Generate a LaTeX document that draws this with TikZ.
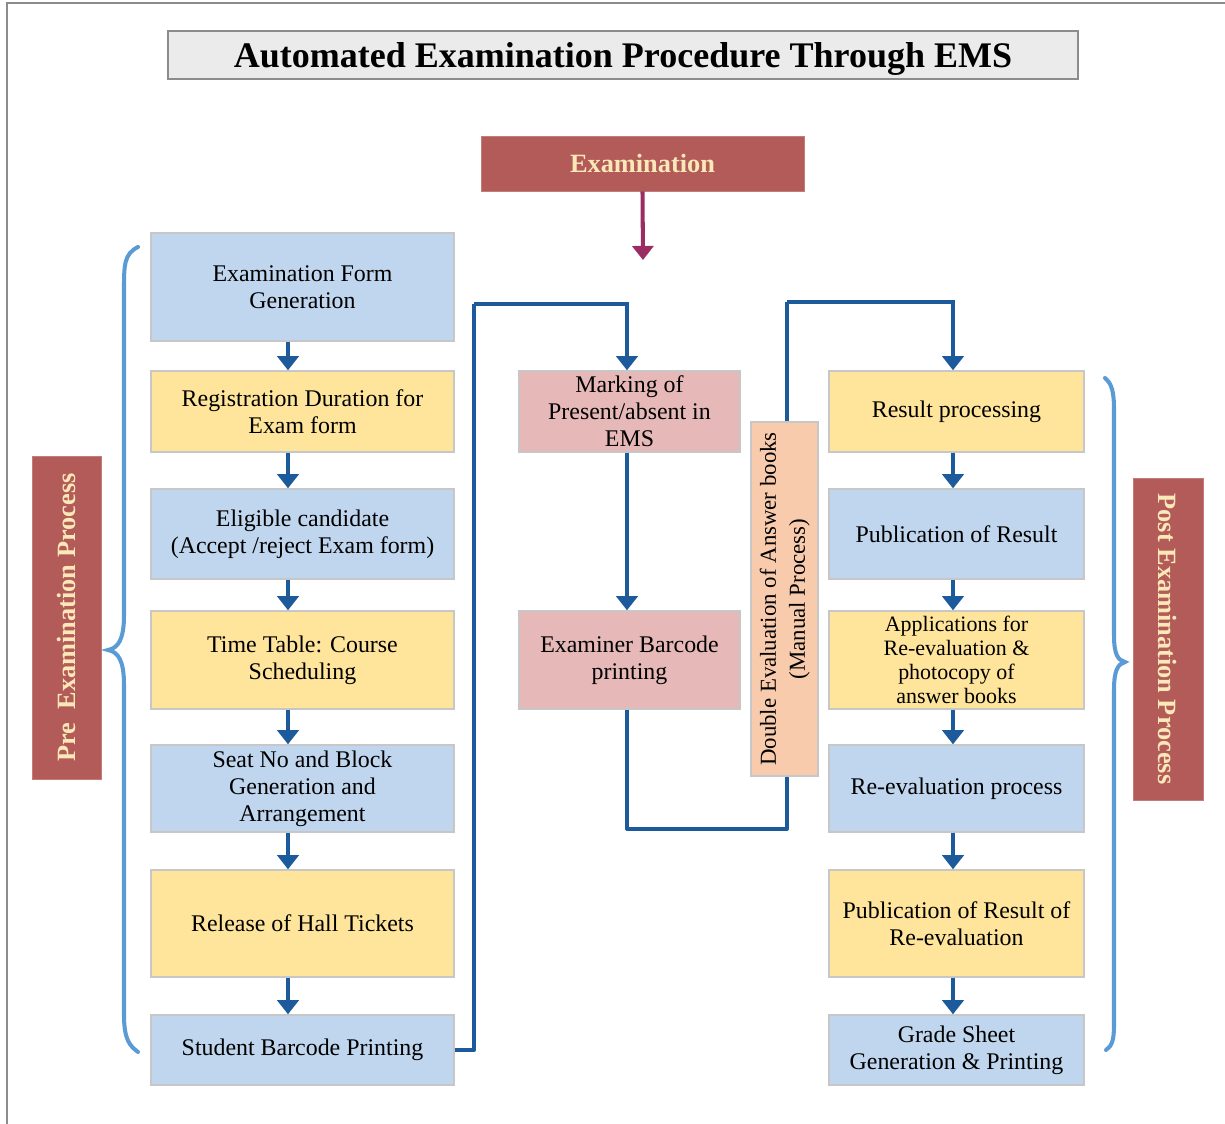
\documentclass[tikz,border=0pt]{standalone}
\usepackage{fontspec}
\setmainfont{Liberation Serif}
\usepackage{tikz}
\usetikzlibrary{arrows.meta, positioning}

\definecolor{boxblue}{HTML}{C0D6EE}
\definecolor{boxyellow}{HTML}{FEE59B}
\definecolor{boxpink}{HTML}{E6B9B8}
\definecolor{boxpeach}{HTML}{F8CBAD}
\definecolor{labelred}{HTML}{B35B58}
\definecolor{labeltext}{HTML}{FAE8B8}
\definecolor{flowblue}{HTML}{1D5A9C}
\definecolor{bracecol}{HTML}{5B9BD5}
\definecolor{exarrow}{HTML}{9B2D62}

\tikzset{
  box/.style={draw=black!22, line width=0.8pt, align=center, inner sep=2pt,
    font=\fontsize{13.6}{15.4}\selectfont},
  leftbox/.style={box, minimum width=6.06cm},
  midbox/.style={box, minimum width=4.42cm},
  rightbox/.style={box, minimum width=5.1cm},
  labelbox/.style={fill=labelred, draw=labelred!80!white, text=labeltext,
    font=\bfseries\fontsize{15}{18}\selectfont, align=center},
  flow/.style={draw=flowblue, line width=2.3pt,
    -{Triangle[width=12pt,length=8pt]}},
  flowline/.style={draw=flowblue, line width=2.3pt, line join=round},
  brace/.style={draw=bracecol, line width=2.3pt, line cap=round},
}

\begin{document}
\begin{tikzpicture}[x=0.02cm, y=-0.02cm]
  \useasboundingbox (0,0) rectangle (1225,1124);
  \draw[black!45, line width=1pt] (7,1124) -- (7,3) -- (1225,3);

  % title and examination
  \node[draw=black!45, fill=black!8, line width=1pt, minimum width=18.2cm,
    minimum height=0.96cm, font=\bfseries\fontsize{20.5}{24}\selectfont]
    (title) at (623,55) {\raisebox{-7pt}[0pt][0pt]{Automated Examination Procedure Through EMS}};
  \node[labelbox, minimum width=6.46cm, minimum height=1.1cm]
    (exam) at (642.5,163.5) {Examination};
  \coordinate (examend) at (643,260);
  \draw[draw=exarrow, line width=2.3pt, -{Triangle[width=12pt,length=8pt]}]
    (exam.south) -- (examend);

  % pre examination column
  \node[leftbox, fill=boxblue, minimum height=2.16cm] (efg) at (302.5,287)
    {Examination Form\\Generation};
  \node[leftbox, fill=boxyellow, minimum height=1.62cm] (reg) at (302.5,411.5)
    {Registration Duration for\\Exam form};
  \node[leftbox, fill=boxblue, minimum height=1.8cm] (elig) at (302.5,534)
    {Eligible candidate\\(Accept /reject Exam form)};
  \node[leftbox, fill=boxyellow, minimum height=1.96cm] (tt) at (302.5,660)
    {Time Table: Course\\Scheduling};
  \node[leftbox, fill=boxblue, minimum height=1.74cm] (seat) at (302.5,788.5)
    {Seat No and Block\\Generation and\\Arrangement};
  \node[leftbox, fill=boxyellow, minimum height=2.14cm] (hall) at (302.5,923.5)
    {Release of Hall Tickets};
  \node[leftbox, fill=boxblue, minimum height=1.4cm] (sbp) at (302.5,1050)
    {Student Barcode Printing};

  % middle column
  \node[midbox, fill=boxpink, minimum height=1.62cm] (mark) at (629.5,411.5)
    {Marking of\\Present/absent in\\EMS};
  \node[midbox, fill=boxpink, minimum height=1.96cm] (exb) at (629.5,660)
    {Examiner Barcode\\printing};
  \node[box, fill=boxpeach, minimum width=1.34cm, minimum height=7.08cm,
    font=\fontsize{13}{16.5}\selectfont] (dbl) at (784.5,599)
    {\rotatebox{90}{\begin{tabular}{@{}c@{}}Double Evaluation of Answer books\\(Manual Process)\end{tabular}}};

  % post examination column
  \node[rightbox, fill=boxyellow, minimum height=1.62cm] (res) at (956.5,411.5)
    {Result processing};
  \node[rightbox, fill=boxblue, minimum height=1.8cm] (pub) at (956.5,534)
    {Publication of Result};
  \node[rightbox, fill=boxyellow, minimum height=1.96cm,
    font=\fontsize{12.5}{13.6}\selectfont] (app) at (956.5,660)
    {Applications for\\Re-evaluation \&\\photocopy of\\answer books};
  \node[rightbox, fill=boxblue, minimum height=1.74cm] (reev) at (956.5,788.5)
    {Re-evaluation process};
  \node[rightbox, fill=boxyellow, minimum height=2.14cm] (pubre) at (956.5,923.5)
    {Publication of Result of\\Re-evaluation};
  \node[rightbox, fill=boxblue, minimum height=1.4cm] (grade) at (956.5,1050)
    {Grade Sheet\\Generation \& Printing};

  % side labels
  \node[labelbox, minimum width=1.38cm, minimum height=6.46cm] (pre) at (66.5,617.5)
    {\rotatebox{90}{Pre\ \ Examination Process}};
  \node[labelbox, minimum width=1.4cm, minimum height=6.44cm] (post) at (1168,639)
    {\rotatebox{-90}{Post Examination Process}};

  % arrows
  \coordinate (lx) at (288,0);
  \coordinate (rx) at (953,0);
  \coordinate (mx) at (627,0);
  \foreach \a/\b in {efg/reg, reg/elig, elig/tt, tt/seat, seat/hall, hall/sbp}
    \draw[flow] (\a.south -| lx) -- (\b.north -| lx);
  \foreach \a/\b in {res/pub, pub/app, app/reev, reev/pubre, pubre/grade}
    \draw[flow] (\a.south -| rx) -- (\b.north -| rx);
  \draw[flow] (mark.south -| mx) -- (exb.north -| mx);

  \coordinate (upa) at (474,304);
  \coordinate (upb) at (787,302);
  \coordinate (low) at (787,829);
  \draw[flowline] (sbp.east) -| (upa);
  \draw[flow] (upa) -| (mark.north -| mx);
  \draw[flowline] (exb.south -| mx) |- (low) -- (dbl.south -| low);
  \draw[flowline] (dbl.north -| upb) -- (upb);
  \draw[flow] (upb) -| (res.north -| rx);

  % braces
  \draw[brace] (138,247) .. controls (124,254) and (124,265) .. (124,290)
    -- (124,615) .. controls (124,640) and (118,648) .. (108,650)
    .. controls (118,652) and (124,660) .. (124,685)
    -- (124,1015) .. controls (124,1040) and (130,1046) .. (138,1052);
  \draw[brace] (1105,378) .. controls (1112,384) and (1114,392) .. (1114,410)
    -- (1114,635) .. controls (1114,655) and (1118,660) .. (1125,662)
    .. controls (1118,664) and (1114,670) .. (1114,690)
    -- (1114,1025) .. controls (1114,1040) and (1112,1046) .. (1106,1050);
\end{tikzpicture}
\end{document}
